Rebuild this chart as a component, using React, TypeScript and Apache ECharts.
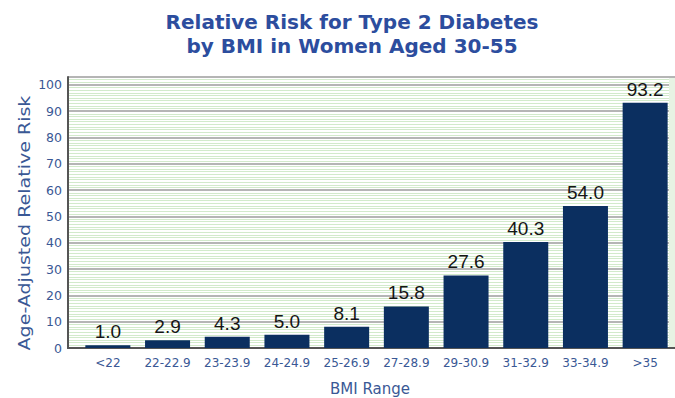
import React, { useEffect, useRef } from "react";
import * as echarts from "echarts";

// BMI ranges and age-adjusted relative risk of type 2 diabetes
const bmiRanges = ["<22", "22-22.9", "23-23.9", "24-24.9", "25-26.9", "27-28.9", "29-30.9", "31-32.9", "33-34.9", ">35"];
const relativeRisk = [1.0, 2.9, 4.3, 5.0, 8.1, 15.8, 27.6, 40.3, 54.0, 93.2];

const titleLines = ["Relative Risk for Type 2 Diabetes", "by BMI in Women Aged 30-55"];
const yAxisTitle = "Age-Adjusted Relative Risk";
const xAxisTitle = "BMI Range";

const Y_MAX = 103;
const labelBlue = "#3a5895";
const frameGray = "#555555";

// a bare frame line along the top or bottom of the backdrop grid
const frameAxis = (position: "top" | "bottom") => ({
  gridIndex: 0,
  type: "value",
  position,
  min: 0,
  max: 1,
  axisLine: { show: true, lineStyle: { color: frameGray, width: 2 } },
  axisTick: { show: false },
  axisLabel: { show: false },
  splitLine: { show: false },
});

export default function App() {
  const ref = useRef<HTMLDivElement>(null);

  useEffect(() => {
    if (!ref.current) return;
    const chart = echarts.init(ref.current, undefined, { renderer: "svg" });

    chart.setOption({
      animation: false,
      backgroundColor: "#ffffff",
      grid: [
        // striped backdrop carrying the value scale
        { left: 68, right: 0, top: 77, bottom: 50 },
        // bars
        { left: 78, right: -1, top: 77, bottom: 50 },
      ],
      xAxis: [
        frameAxis("top"),
        frameAxis("bottom"),
        {
          gridIndex: 1,
          type: "category",
          data: bmiRanges,
          axisLine: { show: false },
          axisTick: { show: false },
          splitLine: { show: false },
          axisLabel: {
            interval: 0,
            hideOverlap: false,
            margin: 9,
            fontFamily: "DejaVu Sans",
            fontSize: 12,
            color: labelBlue,
          },
        },
      ],
      yAxis: [
        {
          gridIndex: 0,
          type: "value",
          min: 0,
          max: Y_MAX,
          interval: 10,
          axisLine: { show: true, lineStyle: { color: frameGray, width: 2 } },
          axisTick: { show: false },
          axisLabel: {
            margin: 6,
            fontFamily: "DejaVu Sans",
            fontSize: 12.5,
            color: labelBlue,
            showMaxLabel: false,
            formatter: (v: number) => (v % 10 === 0 ? String(v) : ""),
          },
          splitLine: { show: true, lineStyle: { color: "#9c9c9c", width: 1.5 } },
          minorTick: { show: false, splitNumber: 10 },
          minorSplitLine: { show: true, lineStyle: { color: "#d2eacb", width: 1.2 } },
        },
        { gridIndex: 1, type: "value", min: 0, max: Y_MAX, show: false },
      ],
      series: [
        {
          type: "bar",
          xAxisIndex: 2,
          yAxisIndex: 1,
          data: relativeRisk,
          barWidth: 45,
          itemStyle: { color: "#0b2f60" },
          label: {
            show: true,
            position: "top",
            distance: 4,
            fontFamily: "Liberation Sans",
            fontSize: 19,
            color: "#151515",
            formatter: (p: any) => Number(p.value).toFixed(1),
          },
        },
      ],
      graphic: [
        // pale strip closing the striped backdrop at the right edge
        {
          type: "rect",
          z: 100,
          shape: { x: 669, y: 78, width: 6, height: 269 },
          style: { fill: "#e7f3e3" },
        },
        {
          type: "text",
          x: 352,
          y: 10,
          style: {
            text: titleLines.join("\n"),
            fontFamily: "DejaVu Sans",
            fontWeight: "bold",
            fontSize: 20,
            lineHeight: 24,
            fill: "#2c4d9e",
            textAlign: "center",
            textVerticalAlign: "top",
          },
        },
        {
          type: "text",
          x: 25,
          y: 223,
          rotation: Math.PI / 2,
          scaleX: 1.27,
          style: {
            text: yAxisTitle,
            fontFamily: "DejaVu Sans",
            fontSize: 15,
            fill: labelBlue,
            textAlign: "center",
            textVerticalAlign: "middle",
          },
        },
        {
          type: "text",
          x: 370,
          y: 389,
          style: {
            text: xAxisTitle,
            fontFamily: "DejaVu Sans",
            fontSize: 15,
            fill: labelBlue,
            textAlign: "center",
            textVerticalAlign: "middle",
          },
        },
      ],
    });

    return () => chart.dispose();
  }, []);

  return <div ref={ref} style={{ width: 675, height: 398, position: "absolute", left: 0, top: 0 }} />;
}
